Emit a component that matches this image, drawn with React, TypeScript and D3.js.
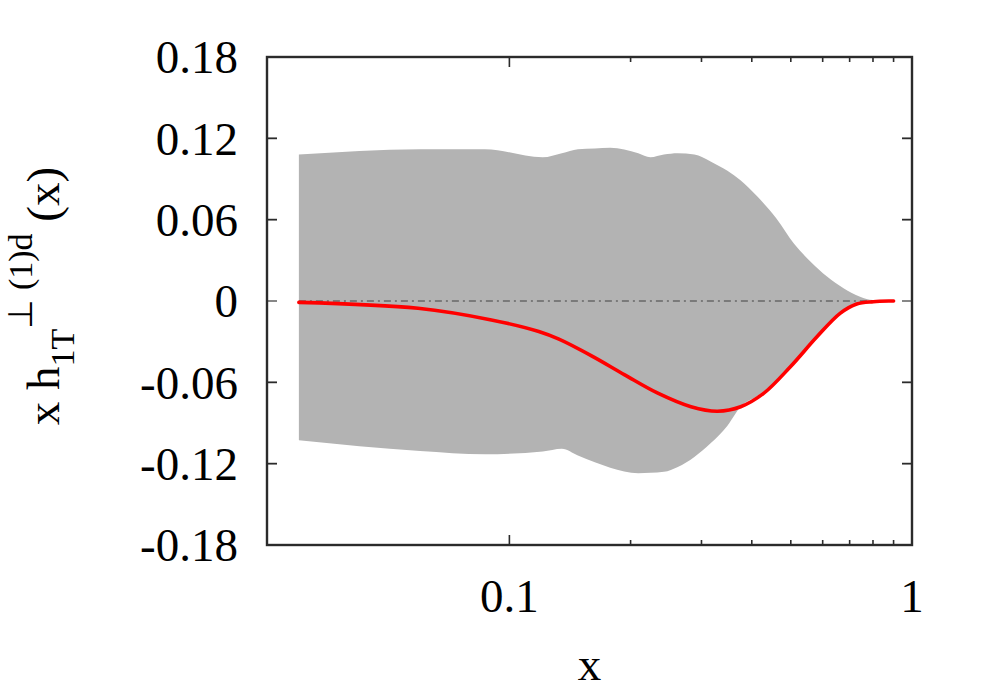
import React from "react";
import * as d3 from "d3";

// ---- data ----
const bandX = [0.03, 0.06, 0.087, 0.121, 0.135, 0.148, 0.163, 0.178, 0.209, 0.224, 0.242, 0.262, 0.288, 0.316, 0.348, 0.375, 0.413, 0.46, 0.51, 0.56, 0.615, 0.676, 0.743, 0.8, 0.9];
const bandUpper = [0.108, 0.112, 0.112, 0.106, 0.109, 0.112, 0.1125, 0.113, 0.109, 0.106, 0.108, 0.109, 0.108, 0.103, 0.096, 0.089, 0.077, 0.061, 0.042, 0.029, 0.018, 0.0094, 0.0032, 0.0007, 0];
const bandLower = [-0.1027, -0.1106, -0.113, -0.111, -0.109, -0.114, -0.119, -0.123, -0.127, -0.1267, -0.126, -0.1224, -0.115, -0.105, -0.092, -0.078, -0.07, -0.059, -0.045, -0.031, -0.019, -0.007, -0.0018, -0.0005, 0];

const curveX = [0.03, 0.0593, 0.0902, 0.1183, 0.1323, 0.16, 0.1934, 0.2337, 0.2825, 0.3288, 0.3754, 0.4287, 0.4988, 0.5806, 0.6628, 0.7289, 0.8016, 0.881, 0.9];
const curveY = [-0.001, -0.0054, -0.014, -0.0225, -0.028, -0.0405, -0.0545, -0.068, -0.078, -0.0813, -0.078, -0.068, -0.0485, -0.0264, -0.0091, -0.0022, -0.0005, 0, 0];

const zeroLineX = [0.03, 0.9];

const yTicks = [-0.18, -0.12, -0.06, 0, 0.06, 0.12, 0.18];
const yTickLabels = ["-0.18", "-0.12", "-0.06", "0", "0.06", "0.12", "0.18"];
const xMajorTicks = [0.1, 1];
const xMajorLabels = ["0.1", "1"];
const xMinorTicks = [0.2, 0.3, 0.4, 0.5, 0.6, 0.7, 0.8, 0.9];

const xDomain = [0.025, 1];
const yDomain = [-0.18, 0.18];

export default function App() {
  const left = 267, right = 912, top = 57, bottom = 545;
  const x = d3.scaleLog().domain(xDomain).range([left, right]);
  const y = d3.scaleLinear().domain(yDomain).range([bottom, top]);

  const bandData = bandX.map((v, i) => ({ x: v, lo: bandLower[i], hi: bandUpper[i] }));
  const area = d3
    .area<{ x: number; lo: number; hi: number }>()
    .x((d) => x(d.x))
    .y0((d) => y(d.lo))
    .y1((d) => y(d.hi))
    .curve(d3.curveMonotoneX);

  const lineData = curveX.map((v, i) => [v, curveY[i]] as [number, number]);
  const line = d3
    .line<[number, number]>()
    .x((d) => x(d[0]))
    .y((d) => y(d[1]))
    .curve(d3.curveCatmullRom.alpha(0.5));

  const font = "'Liberation Serif', 'Times New Roman', serif";
  const frameColor = "#2b2b2b";
  const majorLen = 10;
  const minorLen = 5;

  return (
    <svg width={1000} height={700} style={{ position: "absolute", left: 0, top: 0, background: "#fff" }}>
      <path d={area(bandData) || ""} fill="#b3b3b3" stroke="none" />
      <line
        x1={x(zeroLineX[0])}
        x2={x(zeroLineX[1])}
        y1={y(0)}
        y2={y(0)}
        stroke="#7a7a7a"
        strokeWidth={2}
        strokeDasharray="7,4,2,4"
      />
      <path d={line(lineData) || ""} fill="none" stroke="#ff0000" strokeWidth={3.6} strokeLinejoin="round" strokeLinecap="round" />

      {/* y ticks */}
      {yTicks.map((t, i) => (
        <g key={"y" + i}>
          <line x1={left} x2={left + majorLen} y1={y(t)} y2={y(t)} stroke={t === 0 ? "#7a7a7a" : frameColor} strokeWidth={1.8} />
          <line x1={right} x2={right - majorLen} y1={y(t)} y2={y(t)} stroke={t === 0 ? "#7a7a7a" : frameColor} strokeWidth={1.8} />
          <text x={238} y={y(t)} dy="0.35em" textAnchor="end" fontFamily={font} fontSize={47} fill="#000">
            {yTickLabels[i]}
          </text>
        </g>
      ))}

      {/* x ticks */}
      {xMajorTicks.map((t, i) => (
        <g key={"xm" + i}>
          <line x1={x(t)} x2={x(t)} y1={bottom} y2={bottom - majorLen} stroke={frameColor} strokeWidth={1.6} />
          <line x1={x(t)} x2={x(t)} y1={top} y2={top + majorLen} stroke={frameColor} strokeWidth={1.6} />
          <text x={x(t)} y={612} textAnchor="middle" fontFamily={font} fontSize={47} fill="#000">
            {xMajorLabels[i]}
          </text>
        </g>
      ))}
      {xMinorTicks.map((t, i) => (
        <g key={"xn" + i}>
          <line x1={x(t)} x2={x(t)} y1={bottom} y2={bottom - minorLen} stroke={frameColor} strokeWidth={1.6} />
          <line x1={x(t)} x2={x(t)} y1={top} y2={top + minorLen} stroke={frameColor} strokeWidth={1.6} />
        </g>
      ))}

      {/* frame */}
      <rect x={left} y={top} width={right - left} height={bottom - top} fill="none" stroke={frameColor} strokeWidth={2.4} />

      {/* axis titles */}
      <text x={(left + right) / 2} y={680} textAnchor="middle" fontFamily={font} fontSize={47} fill="#000">
        x
      </text>
      <text transform="translate(59,296) rotate(-90)" textAnchor="middle" fontFamily={font} fontSize={47} fill="#000">
        <tspan>x h</tspan>
        <tspan fontSize={34} dy={15}>1T</tspan>
        <tspan fontSize={34} dy={-42}>⊥ (1)d</tspan>
        <tspan dy={27}> (x)</tspan>
      </text>
    </svg>
  );
}
